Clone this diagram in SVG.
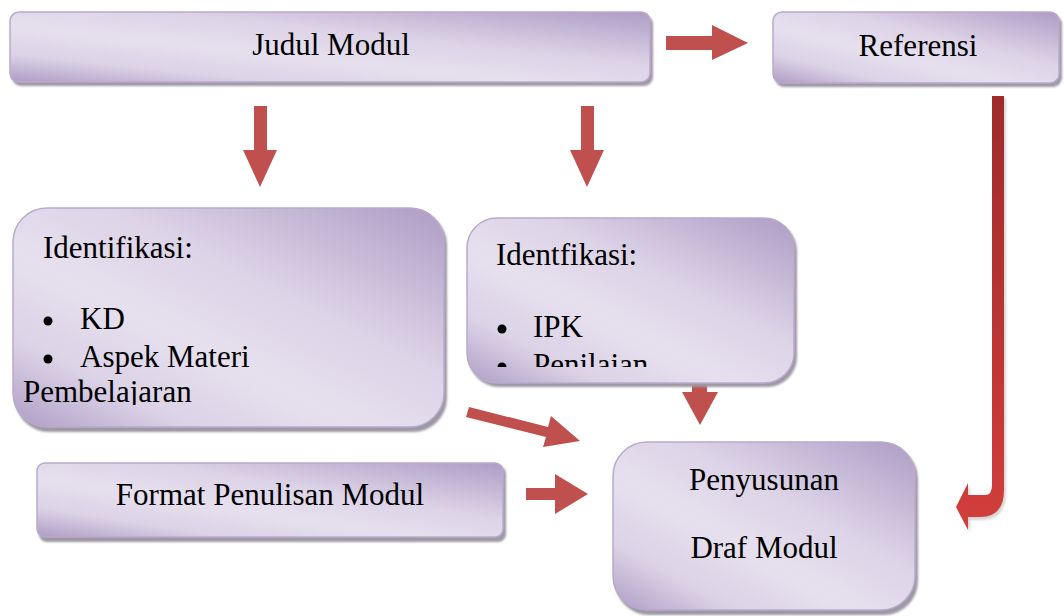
<svg xmlns="http://www.w3.org/2000/svg" width="1064" height="616" viewBox="0 0 1064 616">
<defs>
<linearGradient id="boxg" x1="1" y1="0" x2="0" y2="1">
<stop offset="0" stop-color="#ae9cc5"/>
<stop offset="0.38" stop-color="#dcd3e7"/>
<stop offset="0.6" stop-color="#e6e0ee"/>
<stop offset="0.8" stop-color="#dbd2e6"/>
<stop offset="1" stop-color="#ae9cc5"/>
</linearGradient>
<linearGradient id="bend" x1="0" y1="0" x2="0" y2="1">
<stop offset="0" stop-color="#9e2b2b"/>
<stop offset="1" stop-color="#d23e3b"/>
</linearGradient>
<filter id="blur" x="-10%" y="-10%" width="120%" height="120%"><feGaussianBlur stdDeviation="1.2"/></filter>
<clipPath id="clipL"><rect x="13" y="208" width="432" height="197"/></clipPath>
<clipPath id="clipR"><rect x="467" y="218" width="327" height="149"/></clipPath>
</defs>
<style>
.sh{fill:#9d98a4;filter:url(#blur)}
.bx{fill:url(#boxg);stroke:#b9aacd;stroke-width:1.5}
.t{font-family:"Liberation Serif","Times New Roman",serif;font-size:31px;fill:#000}
.m{text-anchor:middle}
.ar{fill:#c0504d}
.bu{fill:#000}
</style>
<rect width="1064" height="616" fill="#fff"/>

<g id="connectors">
<path class="ar" d="M666,36 H712 V25 L748,43 L712,60 V50 H666 Z"/>
<path class="ar" d="M254,106 H267 V150 H277 L260,187 L243,150 H254 Z"/>
<path class="ar" d="M581,106 H594 V150 H604 L587,187 L570,150 H581 Z"/>
<path class="ar" d="M692,383 H707 V392 H718 L700,425 L682,392 H692 Z"/>
<path class="ar" d="M469,407 L548,427 L551,416 L580,441 L543,447 L546,437 L466,417 Z"/>
<path class="ar" d="M526,488 H555 V474 L588,494 L555,514 V500 H526 Z"/>
<path d="M994,98 H1006 V492 Q1006,520 982,520 H970 V532 L958,509 L970,485 V497 H987 Q994,497 994,487 Z" fill="#888" opacity="0.35" filter="url(#blur)"/>
<path d="M992,96 H1004 V490 Q1004,517 980,517 H968 V530 L956,507 L968,483 V495 H985 Q992,495 992,485 Z" fill="url(#bend)"/>
</g>

<g id="judul">
<rect class="sh" x="12" y="15" width="641" height="71" rx="9"/>
<rect class="bx" x="10" y="12" width="640" height="70" rx="9"/>
<text class="t m" x="331" y="55">Judul Modul</text>
</g>

<g id="referensi">
<rect class="sh" x="775" y="15" width="287" height="72" rx="9"/>
<rect class="bx" x="773" y="12" width="286" height="71" rx="9"/>
<text class="t m" x="918" y="56">Referensi</text>
</g>

<g id="identifikasi-kd">
<rect class="sh" x="15" y="211" width="432" height="221" rx="34"/>
<rect class="bx" x="13" y="208" width="431" height="219" rx="34"/>
<g clip-path="url(#clipL)">
<text class="t" x="43" y="258">Identifikasi:</text>
<circle class="bu" cx="48" cy="321" r="4.5"/>
<text class="t" x="80" y="329">KD</text>
<circle class="bu" cx="48" cy="359" r="4.5"/>
<text class="t" x="80" y="367">Aspek Materi</text>
<text class="t" x="23" y="402">Pembelajaran</text>
</g>
</g>

<g id="identfikasi-ipk">
<rect class="sh" x="469" y="221" width="328" height="166" rx="30"/>
<rect class="bx" x="467" y="218" width="327" height="165" rx="30"/>
<g clip-path="url(#clipR)">
<text class="t" x="496" y="265">Identfikasi:</text>
<circle class="bu" cx="502" cy="329" r="4.5"/>
<text class="t" x="533" y="337">IPK</text>
<circle class="bu" cx="502" cy="367" r="4.5"/>
<text class="t" x="533" y="375">Penilaian</text>
</g>
</g>

<g id="format">
<rect class="sh" x="39" y="466" width="467" height="76" rx="8"/>
<rect class="bx" x="37" y="463" width="466" height="74" rx="8"/>
<text class="t m" x="270" y="505">Format Penulisan Modul</text>
</g>

<g id="penyusunan">
<rect class="sh" x="615" y="445" width="303" height="170" rx="34"/>
<rect class="bx" x="613" y="442" width="302" height="168" rx="34"/>
<text class="t m" x="764" y="490">Penyusunan</text>
<text class="t m" x="764" y="558">Draf Modul</text>
</g>
</svg>
